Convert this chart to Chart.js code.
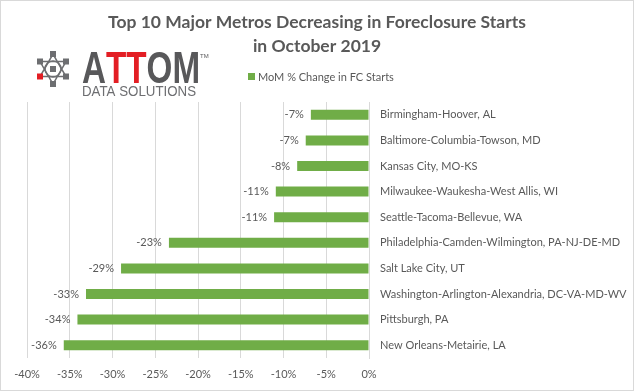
<!DOCTYPE html>
<html>
<head>
<meta charset="utf-8">
<script src="https://cdn.jsdelivr.net/npm/chart.js@4.4.1/dist/chart.umd.min.js"></script>
<style>
  html, body { margin: 0; padding: 0; background: #fff; }
  #wrap { width: 635px; height: 392px; position: relative; }
</style>
</head>
<body>
<div id="wrap"><canvas id="barChart" width="635" height="392"></canvas></div>
<script>
var titleLines = ["Top 10 Major Metros Decreasing in Foreclosure Starts", "in October 2019"];
var seriesName = "MoM % Change in FC Starts";
var metros = [
    "Birmingham-Hoover, AL",
    "Baltimore-Columbia-Towson, MD",
    "Kansas City, MO-KS",
    "Milwaukee-Waukesha-West Allis, WI",
    "Seattle-Tacoma-Bellevue, WA",
    "Philadelphia-Camden-Wilmington, PA-NJ-DE-MD",
    "Salt Lake City, UT",
    "Washington-Arlington-Alexandria, DC-VA-MD-WV",
    "Pittsburgh, PA",
    "New Orleans-Metairie, LA"
];
var momChange = [-6.8, -7.4, -8.4, -10.9, -11.1, -23.4, -29.0, -33.1, -34.1, -35.7];
var xMin = -40, xMax = 0, xStep = 5;

var FONT = "Lato, 'Open Sans', sans-serif";
var GREEN = "#70ad47";
var TEXT = "#595959";

// title, legend, logo, border and the value labels
var decorPlugin = {
    id: 'decor',
    beforeDraw: function (chart) {
        var ctx = chart.ctx;
        ctx.save();
        ctx.fillStyle = "#fff";
        ctx.fillRect(0, 0, chart.width, chart.height);
        ctx.strokeStyle = "#d9d9d9";
        ctx.lineWidth = 1;
        ctx.strokeRect(0.5, 0.5, chart.width - 2, chart.height - 2);
        ctx.restore();
    },
    afterDraw: function (chart) {
        var ctx = chart.ctx;
        ctx.save();
        // title
        ctx.fillStyle = TEXT;
        ctx.textAlign = "center";
        ctx.textBaseline = "middle";
        ctx.font = "bold 17.5px " + FONT;
        ctx.fillText(titleLines[0], 317, 22);
        ctx.fillText(titleLines[1], 317, 46);

        // legend
        ctx.fillStyle = GREEN;
        ctx.fillRect(248, 73, 7, 7);
        ctx.fillStyle = TEXT;
        ctx.textAlign = "left";
        ctx.font = "11px " + FONT;
        ctx.fillText(seriesName, 258, 77);

        drawLogo(ctx);

        // value labels at the end of each bar
        var meta = chart.getDatasetMeta(0);
        ctx.font = "11px " + FONT;
        ctx.fillStyle = TEXT;
        ctx.textAlign = "right";
        ctx.textBaseline = "middle";
        meta.data.forEach(function (bar, i) {
            var v = chart.data.datasets[0].data[i];
            ctx.fillText(Math.round(v) + "%", bar.x - 7, bar.y);
        });
        ctx.restore();
    }
};

function drawLogo(ctx) {
    ctx.save();
    // icon
    var cx = 53, cy = 69;
    ctx.strokeStyle = "#6d6e71";
    ctx.lineWidth = 1.5;
    var nodes = [];
    for (var k = 0; k < 6; k++) {
        var a = -Math.PI / 2 + k * Math.PI / 3;
        nodes.push([cx + Math.cos(a) * 15, cy + Math.sin(a) * 15]);
    }
    // two triangles
    ctx.beginPath();
    ctx.moveTo(nodes[0][0], nodes[0][1]);
    ctx.lineTo(nodes[2][0], nodes[2][1]);
    ctx.lineTo(nodes[4][0], nodes[4][1]);
    ctx.closePath();
    ctx.moveTo(nodes[1][0], nodes[1][1]);
    ctx.lineTo(nodes[3][0], nodes[3][1]);
    ctx.lineTo(nodes[5][0], nodes[5][1]);
    ctx.closePath();
    ctx.stroke();
    ctx.beginPath();
    ctx.arc(cx, cy, 8, 0, Math.PI * 2);
    ctx.stroke();
    ctx.fillStyle = "#6d6e71";
    ctx.fillRect(cx - 3, cy - 3, 6, 6);
    nodes.forEach(function (n, k) {
        ctx.fillStyle = (k === 4) ? "#e31e24" : "#6d6e71";
        ctx.fillRect(n[0] - 3, n[1] - 3, 6, 6);
    });

    // wordmark
    ctx.textBaseline = "alphabetic";
    ctx.textAlign = "left";
    ctx.font = "bold 44px 'Liberation Sans', Arial, sans-serif";
    var parts = [["A", "#58585a"], ["TT", "#e31e24"], ["OM", "#58585a"]];
    var full = ctx.measureText("ATTOM").width;
    var sx = 115 / full;
    ctx.translate(82, 83);
    ctx.scale(sx, 1);
    var x = 0;
    parts.forEach(function (p) {
        ctx.fillStyle = p[1];
        ctx.fillText(p[0], x, 0);
        x += ctx.measureText(p[0]).width;
    });
    ctx.setTransform(1, 0, 0, 1, 0, 0);
    ctx.fillStyle = "#58585a";
    ctx.font = "6px 'Liberation Sans', Arial, sans-serif";
    ctx.fillText("TM", 200, 58);

    ctx.fillStyle = "#6d6e71";
    ctx.font = "14px 'Liberation Sans', Arial, sans-serif";
    var w = ctx.measureText("DATA SOLUTIONS").width;
    ctx.translate(82, 96);
    ctx.scale(114 / w, 1);
    ctx.fillText("DATA SOLUTIONS", 0, 0);
    ctx.restore();
}

var ctx = document.getElementById("barChart");
var barChart = new Chart(ctx, {
    type: 'bar',
    data: {
        labels: metros,
        datasets: [{
            label: seriesName,
            backgroundColor: GREEN,
            data: momChange,
            barPercentage: 0.39,
            categoryPercentage: 1.0
        }]
    },
    options: {
        indexAxis: 'y',
        responsive: false,
        animation: false,
        devicePixelRatio: 1,
        layout: { padding: { top: 102, left: 27, right: 0, bottom: 0 } },
        plugins: {
            legend: { display: false },
            title: { display: false },
            tooltip: { enabled: false }
        },
        scales: {
            x: {
                min: xMin,
                max: xMax,
                grid: { color: "#d9d9d9", drawTicks: false },
                border: { display: false },
                ticks: {
                    stepSize: xStep,
                    padding: 10,
                    color: TEXT,
                    font: { family: FONT, size: 11 },
                    callback: function (v) { return v + "%"; }
                },
                afterFit: function (scale) { scale.height = 34; }
            },
            y: {
                position: 'right',
                grid: { display: false, drawTicks: false },
                border: { display: true, color: "#d9d9d9" },
                ticks: {
                    padding: 11,
                    color: TEXT,
                    font: { family: FONT, size: 11 }
                },
                afterFit: function (scale) { scale.width = 266; }
            }
        }
    },
    plugins: [decorPlugin]
});
</script>
</body>
</html>
